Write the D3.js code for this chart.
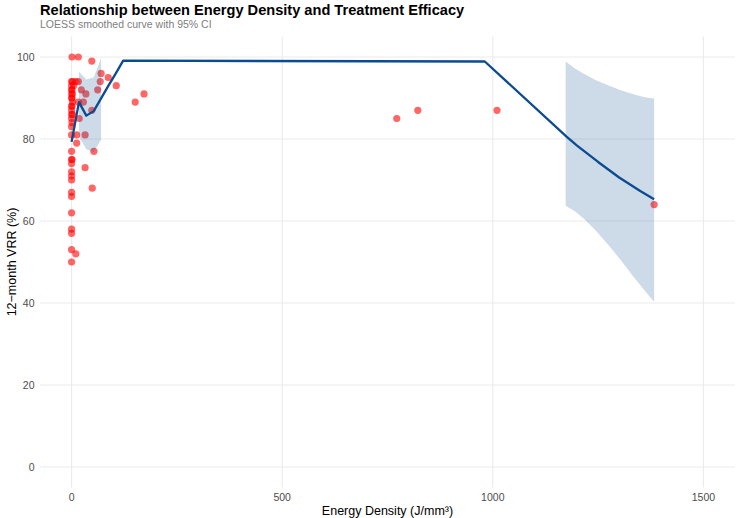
<!DOCTYPE html>
<html lang="en">
    <head>
        <meta charset="utf-8">
        <title>Energy Density and Treatment Efficacy</title>
        <script type="text/javascript" src="https://cdn.jsdelivr.net/npm/d3@7"></script>
        <style>
            body { margin: 0; background: #fff; }
            text { font-family: "Liberation Sans", Arial, sans-serif; }
        </style>
    </head>
    <body>
        <script type="text/javascript">
            // points
            var energy = [1, 0, 2, 0, 1, 0, 2, 0, 1, 0, 2, 0, 1, 0, 2, 0, 0, 1, 0, 0, 0, 1, 0, 0, 0, 0, 0, 0, 0, 0, 0, 0, 0, 0,
                          16, 10, 16, 5, 12, 12, 10, 18, 16, 28, 23, 34, 48, 32, 53, 32, 49, 48, 70, 87, 68, 106, 62, 172, 151,
                          772, 822, 1010, 1383];
            var vrr    = [100, 94, 94, 93, 92, 92, 91, 91, 90, 90, 89, 88, 88, 87, 86, 86, 85, 84, 83, 81, 77, 75, 75, 74, 72, 71, 70, 67, 66, 62, 58, 57, 53, 50,
                          100, 94, 94, 93, 81, 79, 52, 85, 89, 89, 92, 91, 87, 81, 77, 73, 68, 99, 96, 95, 94, 93, 92, 91, 89,
                          85, 87, 87, 64];

            // smoothed curve
            var fitX = [0, 17.5, 35, 52.5, 70, 87.5, 105, 122.5, 981, 1175, 1200, 1250, 1300, 1350, 1383];
            var fitY = [79.3, 89, 85.7, 86.8, 89.9, 93.0, 96.0, 99.1, 98.9, 80.6, 78.4, 74.4, 70.6, 67.3, 65.3];

            // 95% CI, two pieces
            var ciX1 = [17.5, 35, 52.5, 70];
            var ciLo1 = [80.6, 77.5, 76.8, 79.8];
            var ciHi1 = [96.4, 94.5, 95.0, 99.7];
            var ciX2 = [1173, 1195, 1215, 1245, 1278, 1305, 1334, 1360, 1383];
            var ciLo2 = [63.7, 62.4, 60.7, 57.6, 53.7, 50.3, 46.4, 43.1, 40.3];
            var ciHi2 = [98.9, 97.2, 96.0, 94.3, 92.9, 91.8, 90.9, 90.2, 89.9];

            var xTicks = [0, 500, 1000, 1500];
            var yTicks = [0, 20, 40, 60, 80, 100];

            var w = 740;
            var h = 518;
            var padL = 40, padR = 735, padT = 36.5, padB = 487.5;

            var svg = d3.select("body").append("svg").attr("width", w).attr("height", h);

            var xscale = d3.scaleLinear().domain([-75, 1575]).range([padL, padR]);
            var yscale = d3.scaleLinear().domain([-5, 105]).range([padB, padT]);

            // grid
            svg.append("g").selectAll("line").data(yTicks).enter().append("line")
                .attr("x1", padL).attr("x2", padR)
                .attr("y1", function(d) { return yscale(d); })
                .attr("y2", function(d) { return yscale(d); })
                .attr("stroke", "#ebebeb").attr("stroke-width", 1.1);
            svg.append("g").selectAll("line").data(xTicks).enter().append("line")
                .attr("y1", padT).attr("y2", padB)
                .attr("x1", function(d) { return xscale(d); })
                .attr("x2", function(d) { return xscale(d); })
                .attr("stroke", "#ebebeb").attr("stroke-width", 1.1);

            // points
            var pts = energy.map(function(d, i) { return [d, vrr[i]]; });
            svg.append("g").selectAll("circle").data(pts).enter().append("circle")
                .attr("cx", function(d) { return xscale(d[0]); })
                .attr("cy", function(d) { return yscale(d[1]); })
                .attr("r", 3.6)
                .attr("fill", "#ff0000")
                .attr("fill-opacity", 0.6);

            // ribbon
            var area = d3.area()
                .x(function(d) { return xscale(d[0]); })
                .y0(function(d) { return yscale(d[1]); })
                .y1(function(d) { return yscale(d[2]); });
            var ci1 = ciX1.map(function(d, i) { return [d, ciLo1[i], ciHi1[i]]; });
            var ci2 = ciX2.map(function(d, i) { return [d, ciLo2[i], ciHi2[i]]; });
            [ci1, ci2].forEach(function(c) {
                svg.append("path").datum(c).attr("d", area)
                    .attr("fill", "#1d5697").attr("fill-opacity", 0.22);
            });

            // line
            var line = d3.line()
                .x(function(d) { return xscale(d[0]); })
                .y(function(d) { return yscale(d[1]); });
            svg.append("path").datum(fitX.map(function(d, i) { return [d, fitY[i]]; }))
                .attr("d", line)
                .attr("fill", "none")
                .attr("stroke", "#0b4b91")
                .attr("stroke-width", 2.3)
                .attr("stroke-linejoin", "round");

            // tick labels
            svg.append("g").selectAll("text").data(yTicks).enter().append("text")
                .attr("x", 34.5)
                .attr("y", function(d) { return yscale(d); })
                .attr("dy", "0.35em")
                .attr("text-anchor", "end")
                .attr("font-size", "10.5px")
                .attr("fill", "#4d4d4d")
                .text(function(d) { return d; });
            svg.append("g").selectAll("text").data(xTicks).enter().append("text")
                .attr("x", function(d) { return xscale(d); })
                .attr("y", 501)
                .attr("text-anchor", "middle")
                .attr("font-size", "10.5px")
                .attr("fill", "#4d4d4d")
                .text(function(d) { return d; });

            // axis titles
            svg.append("text").attr("x", (padL + padR) / 2).attr("y", 515)
                .attr("text-anchor", "middle").attr("font-size", "12.5px").attr("fill", "#000")
                .text("Energy Density (J/mm³)");
            svg.append("text")
                .attr("transform", "translate(16," + ((padT + padB) / 2) + ") rotate(-90)")
                .attr("text-anchor", "middle").attr("font-size", "12.5px").attr("fill", "#000")
                .text("12\u2212month VRR (%)");

            // titles
            svg.append("text").attr("x", 40).attr("y", 15)
                .attr("font-size", "14.6px").attr("font-weight", "bold").attr("fill", "#000")
                .text("Relationship between Energy Density and Treatment Efficacy");
            svg.append("text").attr("x", 40).attr("y", 28)
                .attr("font-size", "10.5px").attr("fill", "#808080")
                .text("LOESS smoothed curve with 95% CI");
        </script>
    </body>
</html>
